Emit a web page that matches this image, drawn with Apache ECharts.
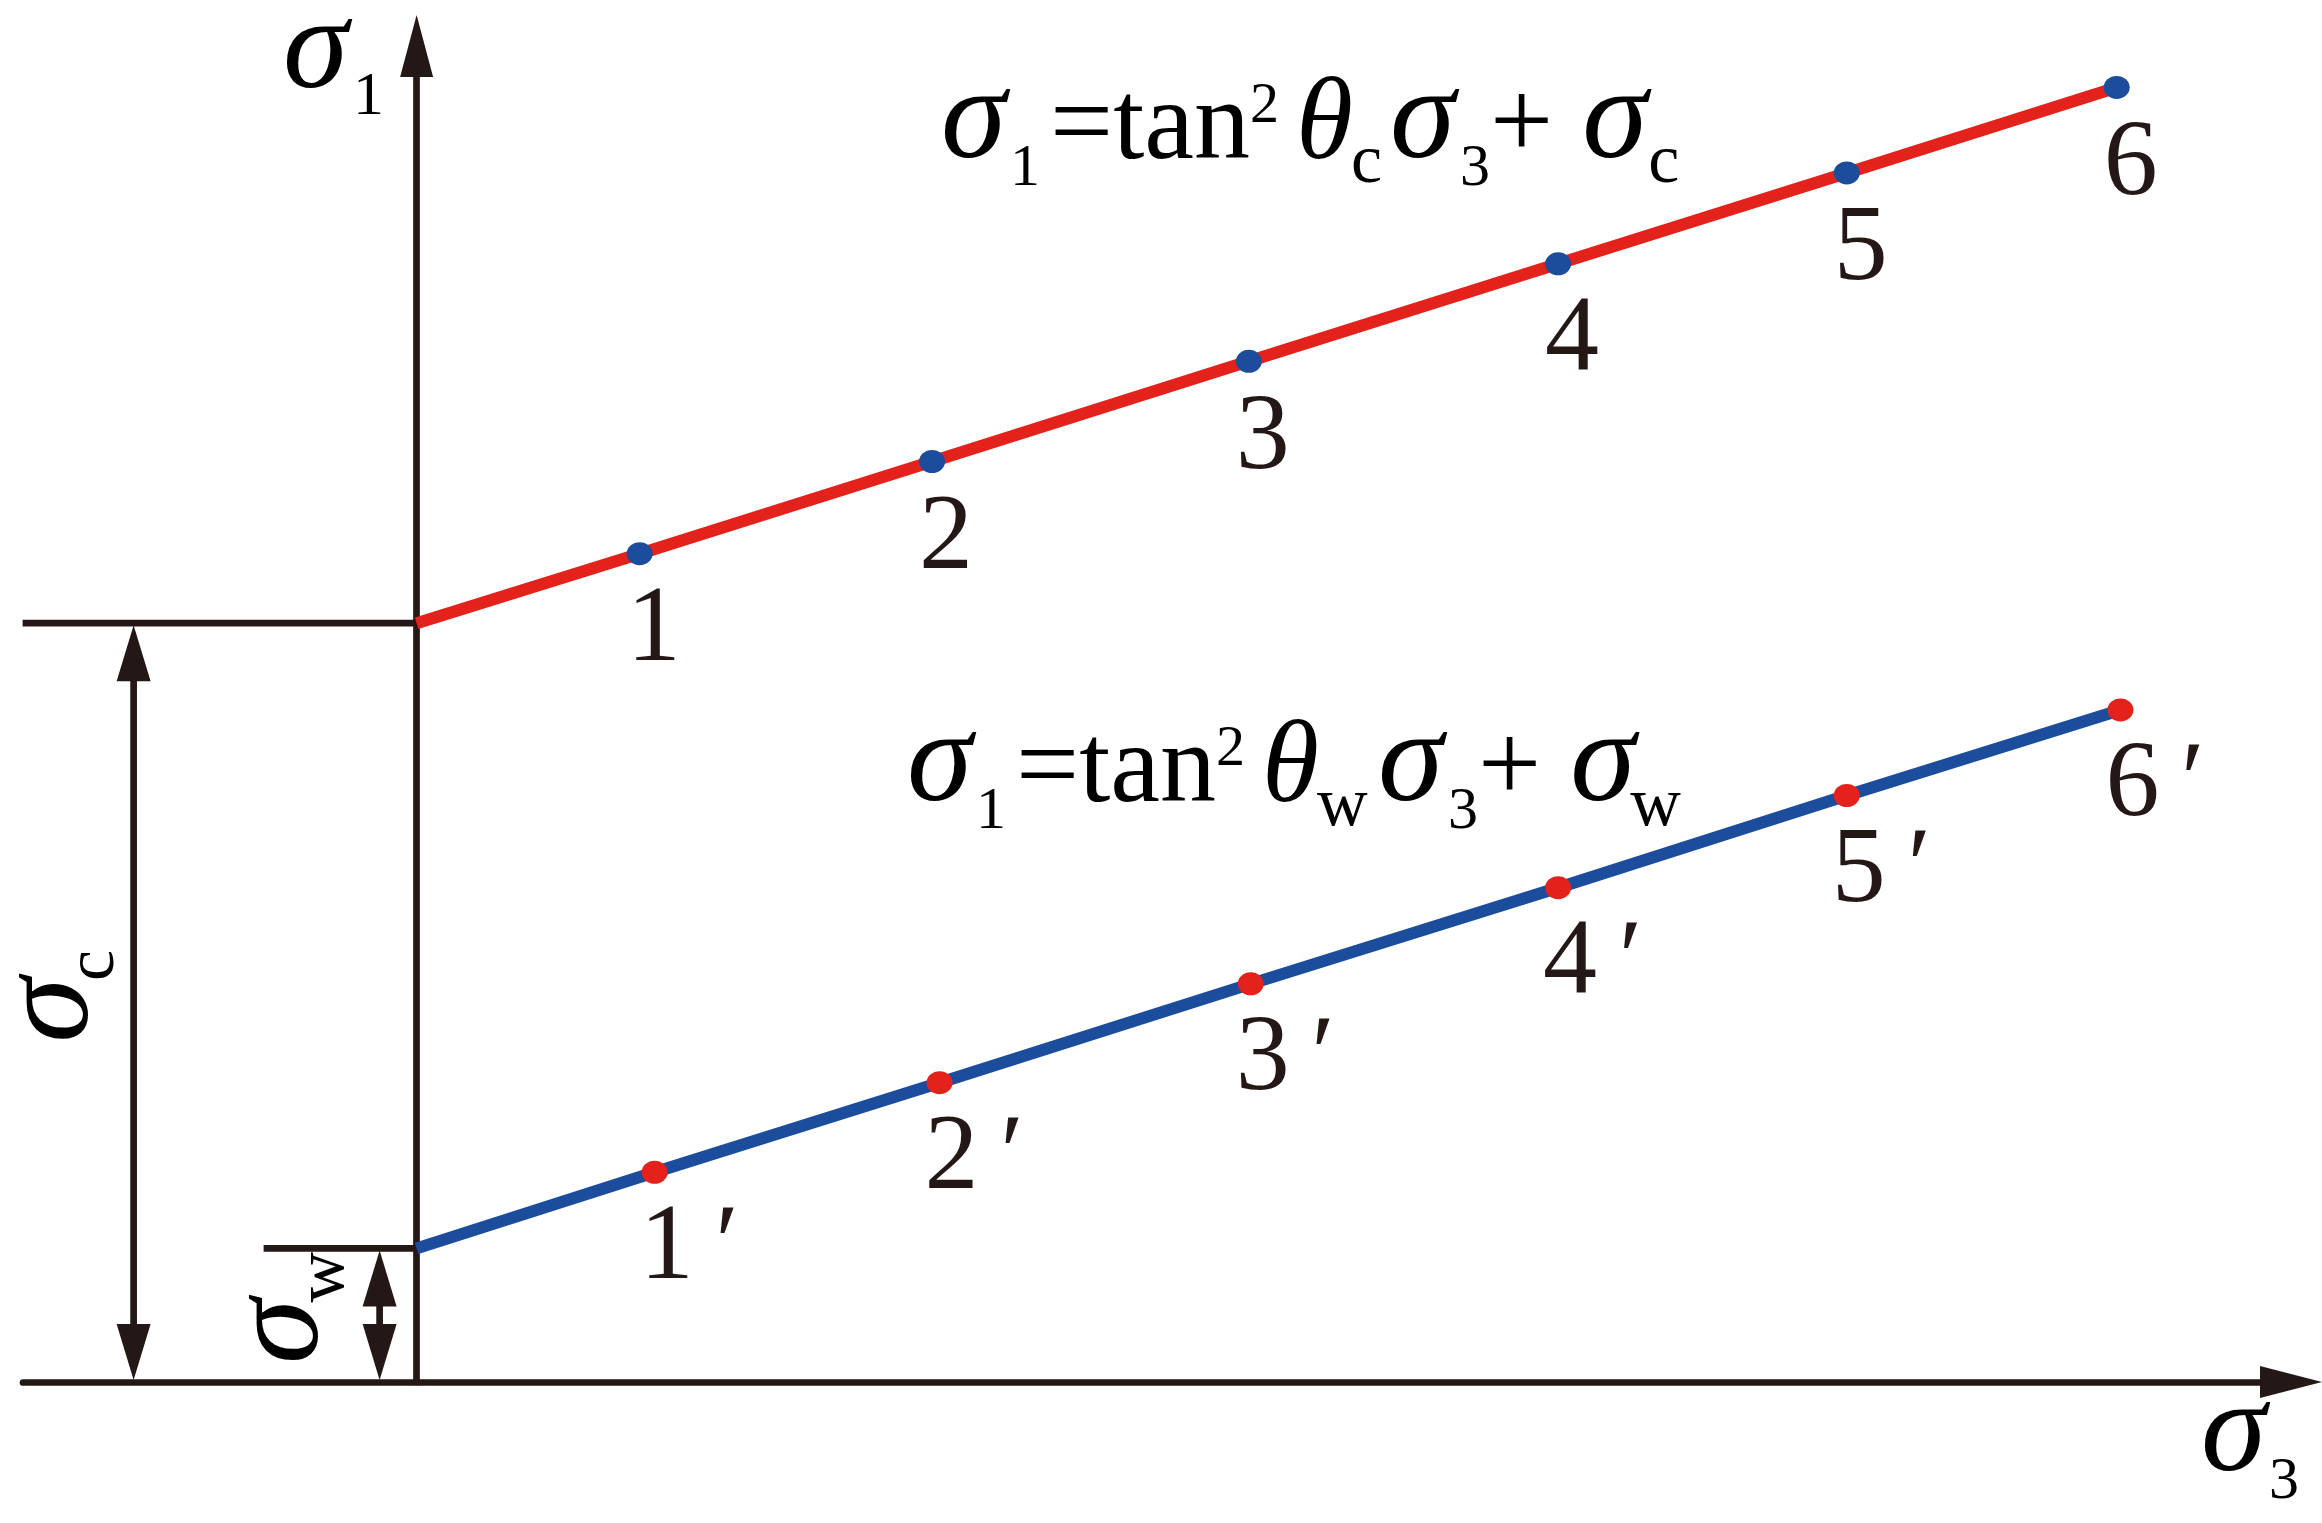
<!DOCTYPE html>
<html>
<head>
<meta charset="utf-8">
<script src="https://cdn.jsdelivr.net/npm/echarts@6/dist/echarts.min.js"></script>
<style>
html,body{margin:0;padding:0;background:#ffffff;}
#chart{width:2322px;height:1523px;}
</style>
</head>
<body>
<div id="chart"></div>
<script>
// ---- data (schematic units) ----
const sigmaC = 5.68;                                   // intercept of the upper line
const sigma3C = [1.19, 2.75, 4.44, 6.09, 7.63, 9.07];
const sigma1C = [6.20, 6.89, 7.64, 8.37, 9.05, 9.69];
const labelsC = ['1', '2', '3', '4', '5', '6'];

const sigmaW = 1.00;                                   // intercept of the lower line
const sigma3W = [1.27, 2.79, 4.45, 6.09, 7.63, 9.09];
const sigma1W = [1.57, 2.24, 2.98, 3.70, 4.39, 5.03];
const labelsW = ['1\u2009\u2032', '2\u2009\u2032', '3\u2009\u2032', '4\u2009\u2032', '5\u2009\u2032', '6\u2009\u2032'];

const xRange = [-2.1, 10];
const yRange = [0, 10];

// ---- styles ----
const INK = '#231815';
const RED = '#E3221C';
const BLUE = '#1C4C9C';
const SERIF = 'Liberation Serif';
const FS = 112;          // main text size
const LH = 140;          // line box of formula text
const SIG = 132;         // size of the italic sigma
const padFor = f => Math.max(0, Math.round(0.675 * (f - FS)));

function sig(w) {
  const st = {fontFamily: SERIF, fontStyle: 'italic', fontSize: SIG, lineHeight: LH, verticalAlign: 'middle',
              padding: [0, 0, padFor(SIG), 0], color: INK};
  if (w) st.width = w;
  return st;
}
function digitSub(w, f) {
  const st = {fontFamily: SERIF, fontSize: f || 60, lineHeight: f || 60, verticalAlign: 'bottom', color: INK};
  if (w) st.width = w;
  return st;
}
function letterSub(w) {
  const st = {fontFamily: SERIF, fontSize: 70, lineHeight: 70, verticalAlign: 'bottom', color: INK};
  if (w) st.width = w;
  return st;
}
function gap(w) {
  return {fontFamily: SERIF, fontSize: FS, lineHeight: LH, verticalAlign: 'middle', width: w, color: INK};
}
const RICH = {
  n:   {fontFamily: SERIF, fontSize: FS, lineHeight: LH, verticalAlign: 'middle', color: INK},
  s:   sig(0),
  s58: sig(58), s60: sig(60), s66: sig(66), s68: sig(68), s69: sig(69), s70: sig(70),
  th55: {fontFamily: SERIF, fontStyle: 'italic', fontSize: 116, lineHeight: LH, verticalAlign: 'middle',
         padding: [0, 0, padFor(116), 0], width: 55, color: INK},
  d:   digitSub(0), d30: digitSub(30), d40: digitSub(40), d62: digitSub(0, 62),
  l:   letterSub(0), l39: letterSub(39), l61: letterSub(61),
  sp:  {fontFamily: SERIF, fontSize: 58, lineHeight: 77, padding: [19, 0, 0, 0], verticalAlign: 'top', color: INK},
  g17: gap(17), g29: gap(29)
};

const pairs = (xs, ys) => xs.map((x, i) => [x, ys[i]]);
const lineC = [[0, sigmaC]].concat(pairs(sigma3C, sigma1C));
const lineW = [[0, sigmaW]].concat(pairs(sigma3W, sigma1W));

const chart = echarts.init(document.getElementById('chart'), null, {renderer: 'canvas'});

const axisCommon = {
  type: 'value',
  axisTick: {show: false},
  axisLabel: {show: false},
  splitLine: {show: false}
};

const option = {
  animation: false,
  backgroundColor: '#ffffff',
  grid: {left: 23, right: 31, top: 46, bottom: 141, containLabel: false},
  xAxis: Object.assign({}, axisCommon, {
    min: xRange[0], max: xRange[1],
    axisLine: {onZero: true, symbol: ['none', 'triangle'], symbolSize: [32, 62],
      lineStyle: {color: INK, width: 6.7}}
  }),
  yAxis: Object.assign({}, axisCommon, {
    min: yRange[0], max: yRange[1],
    axisLine: {onZero: true, symbol: ['none', 'triangle'], symbolSize: [33, 62],
      lineStyle: {color: INK, width: 6.7}}
  }),
  graphic: [
    {type: 'text', x: 941, y: 59, z: 10,
     style: {text: '{s69|σ}{d40|1}{n|=tan}{sp|2}{g17| }{th55|θ}{l39|c}{s70|σ}{d30|3}{n|+}{g29| }{s66|σ}{l|c}',
             rich: RICH, align: 'left', verticalAlign: 'top'}},
    {type: 'text', x: 907, y: 702, z: 10,
     style: {text: '{s69|σ}{d40|1}{n|=tan}{sp|2}{g17| }{th55|θ}{l61|w}{s70|σ}{d30|3}{n|+}{g29| }{s60|σ}{l|w}',
             rich: RICH, align: 'left', verticalAlign: 'top'}},
    {type: 'text', x: 283, y: -11, z: 10,
     style: {text: '{s70|σ}{d62|1}', rich: RICH, align: 'left', verticalAlign: 'top'}},
    {type: 'text', x: 2201, y: 1372, z: 10,
     style: {text: '{s68|σ}{d|3}', rich: RICH, align: 'left', verticalAlign: 'top'}}
  ],
  series: [
    {
      type: 'line', data: lineC, showSymbol: false, symbol: 'none', z: 3,
      lineStyle: {color: RED, width: 12}, silent: true
    },
    {
      type: 'line', data: lineW, showSymbol: false, symbol: 'none', z: 3,
      lineStyle: {color: BLUE, width: 12}, silent: true
    },
    {
      type: 'scatter', data: pairs(sigma3C, sigma1C), symbol: 'circle', symbolSize: [26, 23], z: 4,
      itemStyle: {color: BLUE, opacity: 1}, silent: true,
      label: {show: true, position: 'inside', align: 'left', offset: [-13, 78],
        fontFamily: SERIF, fontSize: 108, color: INK,
        formatter: p => labelsC[p.dataIndex]}
    },
    {
      type: 'scatter', data: pairs(sigma3W, sigma1W), symbol: 'circle', symbolSize: [26, 23], z: 4,
      itemStyle: {color: RED, opacity: 1}, silent: true,
      label: {show: true, position: 'inside', align: 'left', offset: [-15, 77],
        fontFamily: SERIF, fontSize: 108, color: INK,
        formatter: p => labelsW[p.dataIndex]}
    },
    {
      // intercept guide lines and dimension arrows for σc and σw
      type: 'custom', z: 2, silent: true,
      data: [[0, sigmaC], [0, sigmaW]],
      renderItem: function (params, api) {
        const v = api.value(1);
        const top = api.coord([0, v]);
        const bot = api.coord([0, 0]);
        const cfg = params.dataIndex === 0
          ? {guide: 394, arrow: 283, lx: -74, ly: -8, name: 'c'}
          : {guide: 153, arrow: 37, lx: -90, ly: -9, name: 'w'};
        const ax = top[0] - cfg.arrow;
        const hw = 17, hh = 58;
        return {
          type: 'group',
          children: [
            {type: 'line', shape: {x1: top[0] - cfg.guide, y1: top[1], x2: top[0], y2: top[1]},
             style: {stroke: INK, lineWidth: 6.7}},
            {type: 'line', shape: {x1: ax, y1: top[1] + hh - 2, x2: ax, y2: bot[1] - hh + 2},
             style: {stroke: INK, lineWidth: 6.7}},
            {type: 'polygon', shape: {points: [[ax, top[1] + 2], [ax - hw, top[1] + hh], [ax + hw, top[1] + hh]]},
             style: {fill: INK}},
            {type: 'polygon', shape: {points: [[ax, bot[1] - 2], [ax - hw, bot[1] - hh], [ax + hw, bot[1] - hh]]},
             style: {fill: INK}},
            {type: 'text', x: ax + cfg.lx, y: (top[1] + bot[1]) / 2 + cfg.ly, rotation: Math.PI / 2,
             style: {text: '{s58|σ}{l|' + cfg.name + '}', rich: RICH, align: 'center', verticalAlign: 'middle'}}
          ]
        };
      }
    }
  ]
};
chart.setOption(option);
</script>
</body>
</html>
